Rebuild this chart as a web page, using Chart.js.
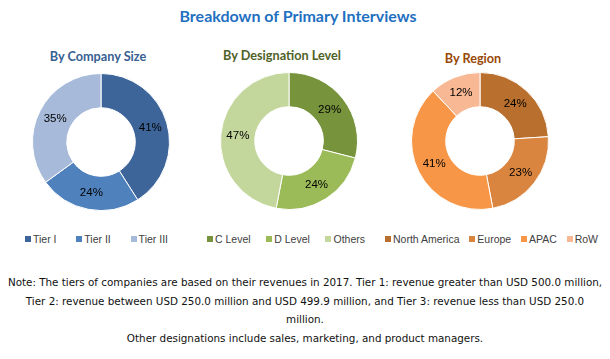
<!DOCTYPE html>
<html>
<head>
<meta charset="utf-8">
<script src="https://cdn.jsdelivr.net/npm/chart.js@4.4.1/dist/chart.umd.min.js"></script>
<style>
  html, body { margin:0; padding:0; background:#fff; }
  body { width:610px; height:359px; position:relative; overflow:hidden; }
  #title { position:absolute; left:0; top:6px; width:596px; text-align:center; line-height:20px;
           font: bold 16px Lato, "Liberation Sans", sans-serif; color:#1f70c1; white-space:nowrap; }
  .sub { position:absolute; width:200px; text-align:center; line-height:16px; height:16px;
         font: bold 12.7px Lato, "Liberation Sans", sans-serif; white-space:nowrap; }
  .donut { position:absolute; width:150px; height:150px; }
  .legend { position:absolute; top:232px; height:14px; display:flex; justify-content:space-between;
            align-items:center; font: 10.5px "Liberation Sans", sans-serif; color:#404040; white-space:nowrap; }
  .legend .item { display:flex; align-items:center; }
  .legend .sw { width:6px; height:6px; margin-right:2px; }
  #notes { position:absolute; left:0; top:273px; width:610px; text-align:center;
           font-family:"DejaVu Sans", sans-serif; color:#111; }
  #notes div { height:18.7px; line-height:18.7px; white-space:nowrap; }
</style>
</head>
<body>
<div id="title">Breakdown of Primary Interviews</div>

<div class="sub" style="left:-2px;top:48px;color:#376092">By Company Size</div>
<div class="sub" style="left:182px;top:47px;color:#4f6228">By Designation Level</div>
<div class="sub" style="left:373px;top:50px;color:#984807">By Region</div>

<div class="donut" style="left:25.5px;top:67px"><canvas id="c1"></canvas></div>
<div class="donut" style="left:214px;top:66px"><canvas id="c2"></canvas></div>
<div class="donut" style="left:405px;top:66px"><canvas id="c3"></canvas></div>

<div class="legend" id="l1" style="left:25px;width:143px"></div>
<div class="legend" id="l2" style="left:207px;width:158px"></div>
<div class="legend" id="l3" style="left:385px;width:213px"></div>

<div id="notes">
  <div id="n1">Note: The tiers of companies are based on their revenues in 2017. Tier 1: revenue greater than USD 500.0 million,</div>
  <div>Tier 2: revenue between USD 250.0 million and USD 499.9 million, and Tier 3: revenue less than USD 250.0</div>
  <div>million.</div>
  <div>Other designations include sales, marketing, and product managers.</div>
</div>
<script>
// ---- data ----
const companyLabels = ["Tier I", "Tier II", "Tier III"];
const companyValues = [41, 24, 35];
const designationLabels = ["C Level", "D Level", "Others"];
const designationValues = [29, 24, 47];
const regionLabels = ["North America", "Europe", "APAC", "RoW"];
const regionValues = [24, 23, 41, 12];

// fit note font so the first line spans ~595px
(function(){
  const n1 = document.getElementById('n1');
  const notes = document.getElementById('notes');
  let size = 11;
  notes.style.fontSize = size + 'px';
  const span = document.createElement('span');
  span.textContent = n1.textContent;
  span.style.whiteSpace = 'nowrap';
  n1.textContent = '';
  n1.appendChild(span);
  const w = span.getBoundingClientRect().width;
  size = size * 595 / w;
  notes.style.fontSize = size.toFixed(2) + 'px';
})();

const pctLabels = {
  id: 'pctLabels',
  afterDatasetsDraw(chart) {
    const ctx = chart.ctx;
    const meta = chart.getDatasetMeta(0);
    const data = chart.data.datasets[0].data;
    ctx.save();
    ctx.font = '11.5px "Liberation Sans", sans-serif';
    ctx.fillStyle = '#000';
    ctx.textAlign = 'center';
    ctx.textBaseline = 'middle';
    meta.data.forEach((arc, i) => {
      const p = arc.tooltipPosition();
      ctx.fillText(data[i] + '%', p.x, p.y);
    });
    ctx.restore();
  }
};

function buildLegend(chart, legendId) {
  const el = document.getElementById(legendId);
  const items = chart.options.plugins.legend.labels.generateLabels(chart);
  items.forEach(it => {
    const item = document.createElement('div');
    item.className = 'item';
    const sw = document.createElement('span');
    sw.className = 'sw';
    sw.style.background = it.fillStyle;
    const tx = document.createElement('span');
    tx.textContent = it.text;
    item.appendChild(sw);
    item.appendChild(tx);
    el.appendChild(item);
  });
}

function makeDonut(id, legendId, labels, values, colors) {
  const chart = new Chart(document.getElementById(id), {
    type: 'doughnut',
    data: {
      labels: labels,
      datasets: [{
        data: values,
        backgroundColor: colors,
        borderColor: '#ffffff',
        borderWidth: 1,
        radius: 68.5,
        cutout: '50%'
      }]
    },
    options: {
      responsive: true,
      maintainAspectRatio: false,
      animation: false,
      events: [],
      layout: { padding: 0 },
      plugins: {
        legend: { display: false },
        tooltip: { enabled: false }
      }
    },
    plugins: [pctLabels]
  });
  buildLegend(chart, legendId);
  return chart;
}

makeDonut('c1', 'l1', companyLabels, companyValues,
  ['#3d659a', '#4f81bd', '#a7bad9']);
makeDonut('c2', 'l2', designationLabels, designationValues,
  ['#77933c', '#9bbb59', '#c3d69b']);
makeDonut('c3', 'l3', regionLabels, regionValues,
  ['#b9702f', '#d9853f', '#f79646', '#f9b894']);
</script>
</body>
</html>
